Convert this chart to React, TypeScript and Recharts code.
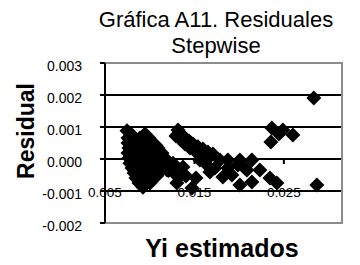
import React from "react";
import { ScatterChart, Scatter, XAxis, YAxis, CartesianGrid, ReferenceArea } from "recharts";

// Yi estimado, residual
const grupoDenso: [number, number][] = [
  [0.00746, 0.00088],
  [0.00791, 0.00078], [0.00947, 0.00078],
  [0.00757, 0.00066], [0.00824, 0.00066], [0.00891, 0.00066], [0.00992, 0.00066],
  [0.0079, 0.00058], [0.0086, 0.00058], [0.0093, 0.00058], [0.0097, 0.00058],
  [0.00757, 0.0005], [0.00824, 0.0005], [0.00891, 0.0005], [0.00958, 0.0005], [0.01036, 0.0005],
  [0.0079, 0.00042], [0.0086, 0.00042], [0.0093, 0.00042], [0.01, 0.00042], [0.0107, 0.00042],
  [0.00768, 0.00034], [0.00835, 0.00034], [0.00902, 0.00034], [0.00969, 0.00034], [0.01036, 0.00034], [0.01092, 0.00034],
  [0.0079, 0.00027], [0.0086, 0.00027], [0.0093, 0.00027], [0.01, 0.00027], [0.0106, 0.00027],
  [0.00757, 0.00019], [0.00824, 0.00019], [0.00891, 0.00019], [0.00958, 0.00019], [0.01025, 0.00019], [0.01092, 0.00019], [0.01137, 0.00019],
  [0.0079, 0.00011], [0.0086, 0.00011], [0.0093, 0.00011], [0.01, 0.00011], [0.0107, 0.00011], [0.0113, 0.00011],
  [0.00768, 0.00003], [0.00835, 0.00003], [0.00902, 0.00003], [0.00969, 0.00003], [0.01036, 0.00003], [0.01103, 0.00003], [0.0117, 0.00003],
  [0.008, -0.00005], [0.0087, -0.00005], [0.0094, -0.00005], [0.0101, -0.00005], [0.0108, -0.00005], [0.0115, -0.00005],
  [0.00779, -0.00013], [0.00846, -0.00013], [0.00913, -0.00013], [0.0098, -0.00013], [0.01047, -0.00013], [0.01115, -0.00013], [0.01204, -0.00013],
  [0.0081, -0.0002], [0.0088, -0.0002], [0.0095, -0.0002], [0.0102, -0.0002], [0.0109, -0.0002], [0.0118, -0.0002],
  [0.00802, -0.00028], [0.00869, -0.00028], [0.00936, -0.00028], [0.01003, -0.00028], [0.0107, -0.00028], [0.01137, -0.00028], [0.01237, -0.00028],
  [0.0083, -0.00036], [0.009, -0.00036], [0.0097, -0.00036], [0.0104, -0.00036], [0.0111, -0.00036], [0.0121, -0.00036],
  [0.00824, -0.00044], [0.00891, -0.00044], [0.00958, -0.00044], [0.01025, -0.00044], [0.01092, -0.00044], [0.01271, -0.00044],
  [0.0087, -0.00052], [0.0094, -0.00052], [0.0101, -0.00052], [0.0108, -0.00052],
  [0.00846, -0.00059], [0.00913, -0.00059], [0.0098, -0.00059], [0.01047, -0.00059],
  [0.009, -0.00067], [0.0097, -0.00067],
  [0.0088, -0.00075], [0.00947, -0.00075], [0.01003, -0.00075],
  [0.00925, -0.00088],
];

const grupoDiagonal: [number, number][] = [
  [0.01316, 0.00091], [0.01293, 0.00072], [0.01349, 0.00078], [0.01394, 0.00066],
  [0.01349, 0.00059], [0.01439, 0.00056], [0.01394, 0.00047], [0.01483, 0.00047],
  [0.0145, 0.00034], [0.01539, 0.00038], [0.01506, 0.00025], [0.01595, 0.00031],
  [0.01561, 0.00016], [0.01651, 0.00022], [0.01707, 0.00016], [0.01628, 0.00006],
  [0.0133, 0.00082], [0.0137, 0.0007], [0.0141, 0.0006], [0.0146, 0.0005],
  [0.0151, 0.0004], [0.0156, 0.0003], [0.0161, 0.0002], [0.0168, 0.0001],
  [0.01874, -0.00003], [0.02008, -0.00003], [0.02142, -0.00003],
];

const grupoBajo: [number, number][] = [
  [0.0126, -0.00013], [0.01372, -0.00025], [0.01561, -0.00003], [0.0164, -0.00019],
  [0.01785, -0.00003], [0.01874, -0.00028], [0.01986, -0.00019], [0.02087, -0.00034],
  [0.01304, -0.00075], [0.01472, -0.00091], [0.01405, -0.00053], [0.01517, -0.00059],
  [0.01673, -0.00041], [0.01729, -0.00028], [0.01818, -0.00056], [0.01919, -0.0005],
  [0.02008, -0.00081], [0.02142, -0.00072], [0.02232, -0.00034], [0.02344, -0.00059],
  [0.02422, -0.00075], [0.02064, -0.00028], [0.01193, -0.00034], [0.01338, -0.00053],
];

const grupoDerecha: [number, number][] = [
  [0.02366, 0.00097], [0.02489, 0.00091], [0.02601, 0.00075], [0.02444, 0.00078],
  [0.02355, 0.00053], [0.02835, 0.00191], [0.02869, -0.00081],
];

const ticksY = [-0.002, -0.001, 0, 0.001, 0.002, 0.003];
const ticksX = [0.005, 0.015, 0.025];
const lineasGuia = [-0.001, 0, 0.001, 0.002];

const puntos = [...grupoDenso, ...grupoDiagonal, ...grupoBajo, ...grupoDerecha].map(([x, y]) => ({ x, y }));

const fuente = '"Liberation Sans", Arial, sans-serif';

function Rombo(props: any) {
  const { cx, cy } = props;
  const r = 7.5;
  return <polygon points={`${cx},${cy - r} ${cx + r},${cy} ${cx},${cy + r} ${cx - r},${cy}`} fill="#000" />;
}

function TickX(props: any) {
  const { x, y, payload } = props;
  return (
    <g>
      <line x1={x} x2={x} y1={y - 72} y2={y - 67} stroke="#000" strokeWidth={2} />
      <text x={x} y={y - 34} textAnchor="middle" fontSize={13.5} fill="#000">
        {payload.value.toFixed(3)}
      </text>
    </g>
  );
}

function TickY(props: any) {
  const { x, y, payload } = props;
  return (
    <text x={x} y={y + 8} textAnchor="end" fontSize={14} fill="#000">
      {payload.value.toFixed(3)}
    </text>
  );
}

export default function App() {
  return (
    <div style={{ position: "absolute", left: 0, top: 0, width: 360, height: 265, background: "#fff", fontFamily: fuente }}>
      <ScatterChart width={360} height={265} margin={{ top: 63, right: 18, bottom: 12, left: 0 }}>
        <ReferenceArea x1={0.005} x2={0.0315} y1={-0.002} y2={0.003} fill="none" stroke="#8c8c8c" strokeWidth={2} />
        <CartesianGrid vertical={false} horizontalValues={lineasGuia} stroke="#000" strokeWidth={2} />
        <XAxis
          type="number"
          dataKey="x"
          domain={[0.005, 0.0315]}
          ticks={ticksX}
          allowDataOverflow
          axisLine={false}
          tickLine={false}
          height={30}
          tick={<TickX />}
        />
        <YAxis
          type="number"
          dataKey="y"
          domain={[-0.002, 0.003]}
          ticks={ticksY}
          allowDataOverflow
          width={105}
          axisLine={{ stroke: "#000", strokeWidth: 2 }}
          tickLine={{ stroke: "#000", strokeWidth: 2 }}
          tickSize={5}
          tickMargin={18}
          tick={<TickY />}
        />
        <Scatter data={puntos} shape={<Rombo />} isAnimationActive={false} />
      </ScatterChart>
      <svg width={360} height={265} style={{ position: "absolute", left: 0, top: 0, pointerEvents: "none" }}>
        <text x={216} y={27} textAnchor="middle" fontSize={22} fill="#000">Gráfica A11. Residuales</text>
        <text x={216} y={53} textAnchor="middle" fontSize={22} fill="#000">Stepwise</text>
        <text x={222} y={257} textAnchor="middle" fontSize={25} fontWeight="bold" fill="#000">Yi estimados</text>
        <text transform="translate(34,131) rotate(-90)" textAnchor="middle" fontSize={23} fontWeight="bold" fill="#000">Residual</text>
      </svg>
    </div>
  );
}
